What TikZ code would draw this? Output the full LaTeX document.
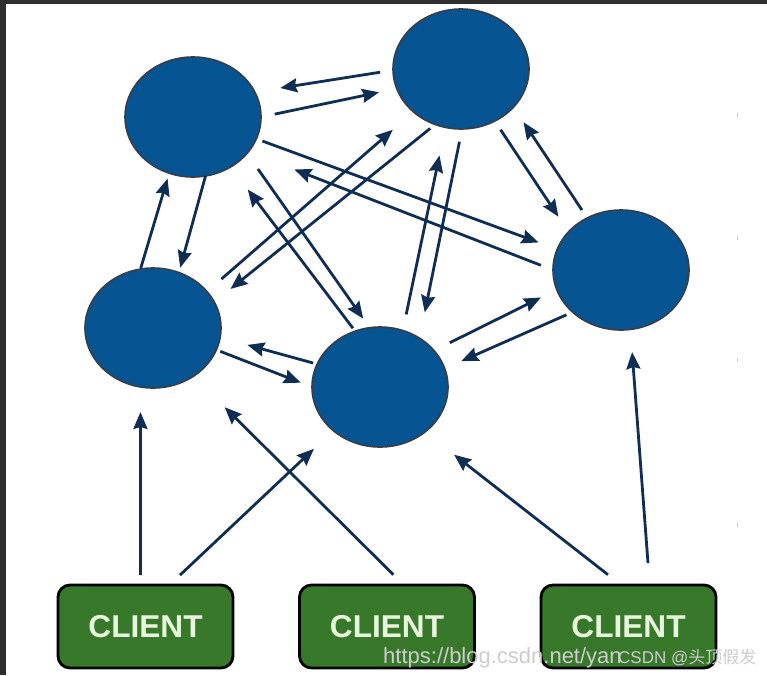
\documentclass[tikz,border=0pt]{standalone}
\usepackage{fontspec}
\usetikzlibrary{positioning,arrows.meta,shapes.geometric}
\newfontfamily\clientfont{Liberation Sans}
\newfontfamily\cjkfont{Noto Sans CJK SC}
\definecolor{peerblue}{RGB}{6,84,146}
\definecolor{peeredge}{RGB}{55,62,74}
\definecolor{linknavy}{RGB}{16,46,84}
\definecolor{clientgreen}{RGB}{56,120,42}
\definecolor{clienttext}{RGB}{232,246,222}
\definecolor{framegray}{RGB}{46,46,46}
\definecolor{markgray}{RGB}{205,205,205}

\begin{document}
\begin{tikzpicture}[x=1pt,y=-1pt,
    peer/.style={ellipse,fill=peerblue,draw=peeredge,line width=1.6pt,
                 minimum width=136pt,minimum height=120pt,inner sep=0pt,outer sep=0pt},
    client/.style={rectangle,rounded corners=12pt,fill=clientgreen,draw=black,
                   line width=2.8pt,minimum width=175pt,minimum height=83pt,
                   inner sep=0pt,outer sep=0pt,text=clienttext,
                   font=\clientfont\bfseries\fontsize{31.6}{32}\selectfont},
    link/.style={draw=linknavy,line width=2.8pt,
                 -{Stealth[length=17pt,width=14pt,inset=2pt]}}]
    \useasboundingbox (0,0) rectangle (767,675);
    \fill[white] (0,0) rectangle (767,675);
    % frame of the screenshot
    \fill[framegray] (0,0) rectangle (767,4);
    \fill[framegray] (0,0) rectangle (6,675);
    \foreach \y in {115,238,360,525}{
        \draw[markgray,line width=0.8pt] (737,\y-2) -- (737,\y+2);
    }
    % cluster nodes
    \node[peer] (pTL) at (193,117) {};
    \node[peer] (pT)  at (461,69)  {};
    \node[peer] (pR)  at (621,270) {};
    \node[peer] (pL)  at (153,328) {};
    \node[peer] (pM)  at (380,387) {};
    % clients
    \node[client] (c1) at (145.5,626.5) {CLIENT};
    \node[client] (c2) at (387,626.5)   {CLIENT};
    \node[client] (c3) at (628.5,626.5) {CLIENT};
    % links between the nodes
    \foreach \s/\sa/\t/\ta/\gs/\gt in {
        pT/181.4/pTL/22.9/13/25.7,   pTL/0/pT/197.8/14/18,
        pTL/-78.5/pL/65/0/5,         pL/102.2/pTL/-113.9/1/5.6,
        pTL/-19.9/pR/162.6/6.5/19.8, pR/180/pTL/-32.2/13/49.2,
        pTL/-34.8/pM/100.5/19/11,    pM/114.6/pTL/-53.5/3.7/28.3,
        pL/34.8/pT/-138.1/19/27.3,   pT/-115.4/pL/23.6/6.3/20.8,
        pM/68.7/pT/-105/16.4/28.6,   pT/-89.2/pM/51.8/13/26.3,
        pT/-57.4/pR/144.8/10.4/18.2, pR/123/pT/-36.2/9.5/18.1,
        pM/34.6/pR/197.2/17.6/17.6,  pR/221.6/pM/16.3/6.7/18.2,
        pM/160.3/pL/-8.4/4.2/28.2,   pL/-19.7/pM/180.7/4.2/12}{
        \draw[link,shorten <=\gs pt,shorten >=\gt pt] (\s.\sa) -- (\t.\ta);
    }
    % clients to nodes
    \foreach \s/\sa/\t/\ta/\gs/\gt in {
        c1/97.5/pL/-102.4/10/25,   c1/60/pM/-137.7/14.5/26.6,
        c2/68.2/pL/-50/14.6/44,    c3/100.9/pM/-45.8/16.8/36.9,
        c3/63/pR/-81.7/22/22.7}{
        \draw[link,shorten <=\gs pt,shorten >=\gt pt] (\s.\sa) -- (\t.\ta);
    }
    % watermark
    \node[anchor=base west,inner sep=0pt,text=markgray,
          font=\clientfont\fontsize{22}{24}\selectfont] (wmurl) at (383,663)
        {https://blog.csdn.net/yan};
    \node[anchor=base west,inner sep=0pt,text=markgray,
          font=\clientfont\fontsize{17}{18}\selectfont] (wmname) at (618,663)
        {CSDN @{\cjkfont 头顶假发}};
\end{tikzpicture}
\end{document}
